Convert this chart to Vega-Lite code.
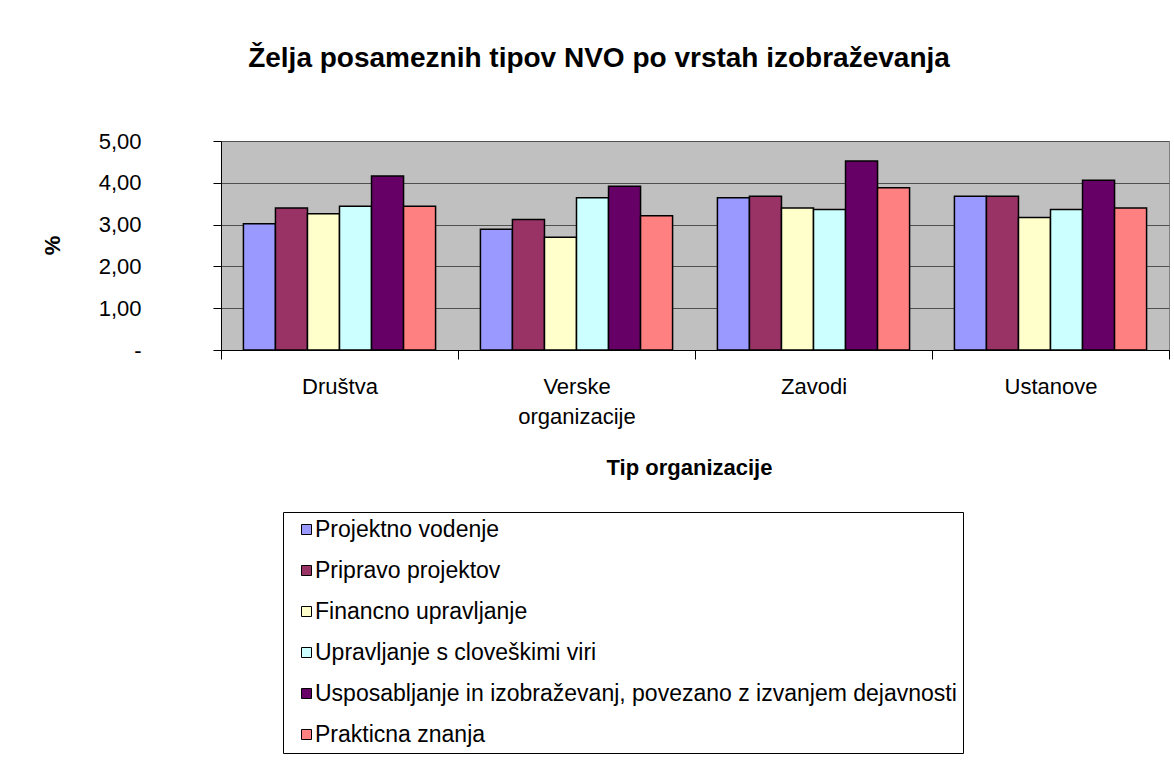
{
  "$schema": "https://vega.github.io/schema/vega-lite/v6.json",
  "width": 948,
  "height": 209,
  "autosize": "none",
  "padding": {"left": 221, "top": 141, "right": 5, "bottom": 413},
  "background": "white",
  "title": {
    "text": "Želja posameznih tipov NVO po vrstah izobraževanja",
    "font": "Liberation Sans",
    "fontSize": 28,
    "fontWeight": "bold",
    "color": "black",
    "anchor": "middle",
    "frame": "group",
    "dx": -96,
    "offset": 35,
    "baseline": "alphabetic"
  },
  "data": {
    "values": [
      {"org": "Društva", "type": "Projektno vodenje", "value": 3.02},
      {"org": "Društva", "type": "Pripravo projektov", "value": 3.40},
      {"org": "Društva", "type": "Financno upravljanje", "value": 3.26},
      {"org": "Društva", "type": "Upravljanje s cloveškimi viri", "value": 3.44},
      {"org": "Društva", "type": "Usposabljanje in izobraževanj, povezano z izvanjem dejavnosti", "value": 4.16},
      {"org": "Društva", "type": "Prakticna znanja", "value": 3.44},
      {"org": "Verske organizacije", "type": "Projektno vodenje", "value": 2.89},
      {"org": "Verske organizacije", "type": "Pripravo projektov", "value": 3.12},
      {"org": "Verske organizacije", "type": "Financno upravljanje", "value": 2.70},
      {"org": "Verske organizacije", "type": "Upravljanje s cloveškimi viri", "value": 3.64},
      {"org": "Verske organizacije", "type": "Usposabljanje in izobraževanj, povezano z izvanjem dejavnosti", "value": 3.92},
      {"org": "Verske organizacije", "type": "Prakticna znanja", "value": 3.21},
      {"org": "Zavodi", "type": "Projektno vodenje", "value": 3.64},
      {"org": "Zavodi", "type": "Pripravo projektov", "value": 3.68},
      {"org": "Zavodi", "type": "Financno upravljanje", "value": 3.40},
      {"org": "Zavodi", "type": "Upravljanje s cloveškimi viri", "value": 3.36},
      {"org": "Zavodi", "type": "Usposabljanje in izobraževanj, povezano z izvanjem dejavnosti", "value": 4.52},
      {"org": "Zavodi", "type": "Prakticna znanja", "value": 3.88},
      {"org": "Ustanove", "type": "Projektno vodenje", "value": 3.68},
      {"org": "Ustanove", "type": "Pripravo projektov", "value": 3.68},
      {"org": "Ustanove", "type": "Financno upravljanje", "value": 3.17},
      {"org": "Ustanove", "type": "Upravljanje s cloveškimi viri", "value": 3.36},
      {"org": "Ustanove", "type": "Usposabljanje in izobraževanj, povezano z izvanjem dejavnosti", "value": 4.06},
      {"org": "Ustanove", "type": "Prakticna znanja", "value": 3.40}
    ]
  },
  "mark": {"type": "bar", "stroke": "black", "strokeWidth": 1.5},
  "encoding": {
    "x": {
      "field": "org",
      "type": "nominal",
      "sort": ["Društva", "Verske organizacije", "Zavodi", "Ustanove"],
      "scale": {"paddingInner": 0, "paddingOuter": 0},
      "axis": {
        "title": "Tip organizacije",
        "labelFont": "Liberation Sans",
        "labelFontSize": 22,
        "labelColor": "black",
        "labelAngle": 0,
        "labelPadding": 17,
        "labelBaseline": "top",
        "labelLineHeight": 30,
        "labelExpr": "datum.label == 'Verske organizacije' ? ['Verske', 'organizacije'] : datum.label",
        "tickBand": "extent",
        "tickSize": 9,
        "tickColor": "black",
        "domainColor": "black",
        "grid": false,
        "titleFont": "Liberation Sans",
        "titleFontSize": 22,
        "titleFontWeight": "bold",
        "titleColor": "black",
        "titleX": 468,
        "titleY": 124,
        "titleBaseline": "alphabetic",
        "titleAlign": "center"
      }
    },
    "xOffset": {
      "field": "type",
      "type": "nominal",
      "scale": {
        "domain": ["Projektno vodenje", "Pripravo projektov", "Financno upravljanje", "Upravljanje s cloveškimi viri", "Usposabljanje in izobraževanj, povezano z izvanjem dejavnosti", "Prakticna znanja"],
        "paddingInner": 0,
        "paddingOuter": 0.7
      }
    },
    "y": {
      "field": "value",
      "type": "quantitative",
      "scale": {"domain": [0, 5], "nice": false},
      "axis": {
        "title": "%",
        "values": [0, 1, 2, 3, 4, 5],
        "labelExpr": "datum.value == 0 ? '-    ' : replace(format(datum.value, '.2f'), '.', ',')",
        "labelFont": "Liberation Sans",
        "labelFontSize": 22,
        "labelColor": "black",
        "labelPadding": 72,
        "tickSize": 8,
        "tickColor": "black",
        "domainColor": "black",
        "grid": true,
        "gridColor": "#505050",
        "gridWidth": 1,
        "titleFont": "Liberation Sans",
        "titleFontSize": 22,
        "titleFontWeight": "bold",
        "titleColor": "black",
        "titleX": -169,
        "titleY": 104,
        "titleAngle": -90,
        "titleBaseline": "middle",
        "titleAlign": "center"
      }
    },
    "color": {
      "field": "type",
      "type": "nominal",
      "scale": {
        "domain": ["Projektno vodenje", "Pripravo projektov", "Financno upravljanje", "Upravljanje s cloveškimi viri", "Usposabljanje in izobraževanj, povezano z izvanjem dejavnosti", "Prakticna znanja"],
        "range": ["#9999FF", "#993366", "#FFFFCC", "#CCFFFF", "#660066", "#FF8080"]
      },
      "legend": {
        "orient": "none",
        "legendX": 62,
        "legendY": 371,
        "title": null,
        "direction": "vertical",
        "strokeColor": "black",
        "fillColor": "white",
        "padding": 6,
        "symbolType": "square",
        "symbolSize": 100,
        "symbolStrokeColor": "black",
        "symbolStrokeWidth": 1,
        "symbolOpacity": 1,
        "symbolOffset": 6,
        "labelFont": "Liberation Sans",
        "labelFontSize": 23,
        "labelColor": "black",
        "labelOffset": -3,
        "rowPadding": 17,
        "labelLimit": 900
      }
    }
  },
  "config": {
    "view": {"fill": "#C0C0C0", "stroke": "#808080", "strokeWidth": 1}
  }
}
